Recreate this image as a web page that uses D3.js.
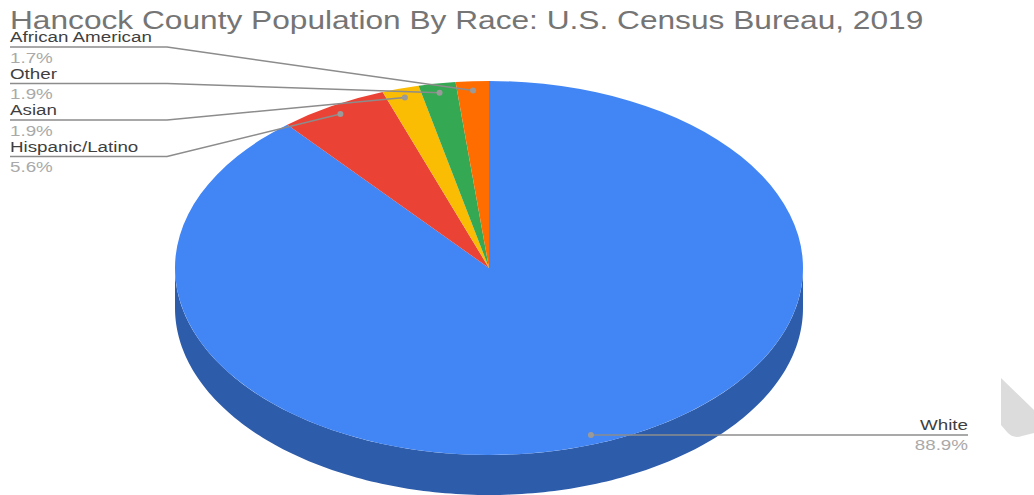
<!DOCTYPE html>
<html>
<head>
<meta charset="utf-8">
<style>
	body{ margin:0; background:#fff; }
	svg{ display:block; }
	text{ font-family:"Liberation Sans", Arial, sans-serif; }
	.name{ fill:#3f3f3f; font-size:15.4px; }
	.pct{ fill:#a9a9a9; font-size:15.4px; }
	.leader{ fill:none; stroke:#8c8c8c; stroke-width:1.5; }
	.dot{ fill:#9a9a9a; }
</style>
<script src="https://d3js.org/d3.v7.min.js"></script>
</head>
<body>
<div id="container"></div>

<script type="text/javascript">

var titleText = "Hancock County Population By Race: U.S. Census Bureau, 2019";

// clockwise from 12 o'clock
var races = ["White", "Hispanic/Latino", "Asian", "Other", "African American"];
var shares = [88.9, 5.6, 1.9, 1.9, 1.7];
var colors = ["#4285f4", "#ea4335", "#fbbc04", "#34a853", "#ff6d01"];
var sideColor = "#2d5cab";

var width = 1034, height = 495;
var cx = 489, cy = 268, rx = 314, ry = 187, depth = 40;
var stretch = 1.22; // reference text is wider than it is tall
var titleStretch = 1.195;

var svg = d3.select("#container")
	.append("svg")
	.attr("width", width)
	.attr("height", height);

// text is drawn at its anchor, then widened
function addText(cls, x, y, str, anchor, k){
	return svg.append("text")
		.attr("class", cls)
		.attr("transform", "translate(" + x + "," + y + ") scale(" + (k || stretch) + ",1)")
		.attr("text-anchor", anchor || "start")
		.text(str);
}

addText("title", 10, 28.5, titleText, "start", titleStretch)
	.style("fill", "#757575")
	.style("font-size", "26.5px");

var pie = d3.pie().sort(null).value(function(d){ return d; });
var slices = pie(shares);

// the rim, front half of the ellipse pushed down by depth
var rim = d3.area()
	.x(function(a){ return cx + rx * Math.cos(a); })
	.y0(function(a){ return cy + ry * Math.sin(a); })
	.y1(function(a){ return cy + ry * Math.sin(a) + depth; });

svg.append("path")
	.attr("d", rim(d3.range(0, Math.PI + 0.01, Math.PI / 180)))
	.attr("fill", sideColor);

var arc = d3.arc().innerRadius(0).outerRadius(rx);

svg.append("g")
	.attr("transform", "translate(" + cx + "," + cy + ") scale(1," + (ry / rx) + ")")
	.selectAll("path")
	.data(slices)
	.enter().append("path")
	.attr("d", arc)
	.attr("fill", function(d, i){ return colors[i]; });

// leader dot sits at 95% of the radius, mid slice
function dotPos(d){
	var a = (d.startAngle + d.endAngle) / 2;
	return [cx + 0.95 * rx * Math.sin(a), cy - 0.95 * ry * Math.cos(a)];
}

var line = d3.line();
var labelX = 10, elbowX = 167, firstLine = 47, lineGap = 36.5;

slices.forEach(function(d, i){
	var p = dotPos(d), pts, y;
	if(i === 0){
		y = p[1];
		pts = [p, [968, y]];
		addText("name", 968, y - 5, races[i], "end");
		addText("pct", 968, y + 15, d3.format(".1f")(shares[i]) + "%", "end");
	}else{
		y = firstLine + (races.length - 1 - i) * lineGap;
		pts = [[labelX, y], [elbowX, y], p];
		addText("name", labelX, y - 5, races[i]);
		addText("pct", labelX, y + 15.5, d3.format(".1f")(shares[i]) + "%");
	}
	svg.append("path").attr("class", "leader").attr("d", line(pts));
	svg.append("circle").attr("class", "dot").attr("cx", p[0]).attr("cy", p[1]).attr("r", 3);
});

// grey fragment on the right edge of the picture
svg.append("path")
	.attr("d", "M1001,378L1034,410V433L1022,436Q1013,439 1007,432L1001,425Z")
	.attr("fill", "#dcdcdc");

</script>
</body>
</html>
